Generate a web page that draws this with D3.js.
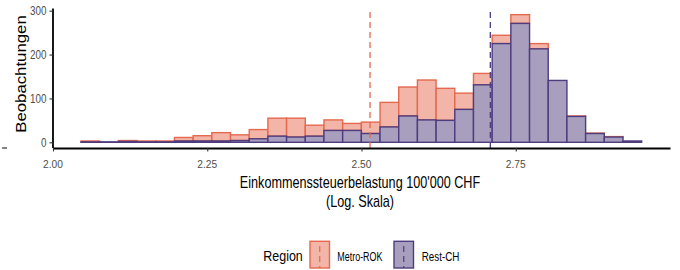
<!DOCTYPE html>
<html>
<head>
<meta charset="utf-8">
<script src="https://cdn.jsdelivr.net/npm/d3@7"></script>
<style>
  body { margin: 0; background: #fff; }
  svg { display: block; }
  text { font-family: "Liberation Sans", Arial, sans-serif; }
</style>
</head>
<body>
<svg id="chart" width="680" height="270"></svg>
<script>
// histogram bins (30 bins, log scale of tax burden)
var binStart = 2.0454;
var binWidth = 0.03029;
var restCH   = [1, 1, 2, 1, 1, 3, 3, 3, 4, 8, 14, 12, 14, 27, 27, 20, 35, 60, 51, 50, 75, 131, 225, 271, 213, 141, 59, 20, 12, 3];
var metroROK = [2, 0, 2, 2, 2, 8, 12, 19, 13, 21, 41, 43, 25, 24, 16, 26, 56, 66, 91, 73, 37, 26, 19, 20, 12, 0, 1, 1, 1, 0];
var meanMetro = 2.5138;
var meanRest  = 2.7088;
var xTicks = [2.00, 2.25, 2.50, 2.75];
var yTicks = [0, 100, 200, 300];
var regions = ["Metro-ROK", "Rest-CH"];

var fillCol   = {"Metro-ROK": "#f2b5a8", "Rest-CH": "#a79fbd"};
var strokeCol = {"Metro-ROK": "#e4694f", "Rest-CH": "#4e3c7e"};

var svg = d3.select("#chart");

var x = d3.scaleLinear().domain([2.0, 3.0]).range([53, 670]);
var y = d3.scaleLinear().domain([-13, 305]).range([148, 8.5]);

var bins = restCH.map(function(r, i) {
    return {x0: binStart + i * binWidth, x1: binStart + (i + 1) * binWidth, rest: r, metro: metroROK[i]};
});

// the reference text is squeezed sideways, so each label gets its own x scale
function label(g, tx, ty, str, size, anchor, color, sq) {
    return g.append("text")
        .attr("transform", "translate(" + tx + "," + ty + ") scale(" + sq + ",1)")
        .attr("text-anchor", anchor)
        .attr("font-size", size)
        .attr("fill", color)
        .text(str);
}

// Metro-ROK stacked on top
svg.append("g").selectAll("rect")
    .data(bins.filter(function(d) { return d.metro > 0; }))
    .enter().append("rect")
    .attr("x", function(d) { return x(d.x0); })
    .attr("width", function(d) { return x(d.x1) - x(d.x0); })
    .attr("y", function(d) { return y(d.rest + d.metro); })
    .attr("height", function(d) { return y(d.rest) - y(d.rest + d.metro); })
    .attr("fill", fillCol["Metro-ROK"])
    .attr("stroke", strokeCol["Metro-ROK"])
    .attr("stroke-width", 1.4);

svg.append("g").selectAll("rect")
    .data(bins)
    .enter().append("rect")
    .attr("x", function(d) { return x(d.x0); })
    .attr("width", function(d) { return x(d.x1) - x(d.x0); })
    .attr("y", function(d) { return y(d.rest); })
    .attr("height", function(d) { return y(0) - y(d.rest); })
    .attr("fill", fillCol["Rest-CH"])
    .attr("stroke", strokeCol["Rest-CH"])
    .attr("stroke-width", 1.4);

// mean lines
[[meanMetro, "Metro-ROK"], [meanRest, "Rest-CH"]].forEach(function(m) {
    svg.append("line")
        .attr("x1", x(m[0])).attr("x2", x(m[0]))
        .attr("y1", 148).attr("y2", 8.5)
        .attr("stroke", strokeCol[m[1]])
        .attr("stroke-width", 1.3)
        .attr("stroke-dasharray", "6,4");
});

// axes
var yAxis = svg.append("g").attr("transform", "translate(53,0)")
    .call(d3.axisLeft(y).tickValues(yTicks).tickSize(3.5).tickSizeOuter(0).tickFormat(d3.format("d")));
var xAxis = svg.append("g").attr("transform", "translate(0,148)")
    .call(d3.axisBottom(x).tickValues(xTicks).tickSize(3.5).tickSizeOuter(0).tickFormat(d3.format(".2f")));

[yAxis, xAxis].forEach(function(a) {
    a.select(".domain").attr("stroke", "#000").attr("stroke-width", 1.8);
    a.selectAll(".tick line").attr("stroke", "#333").attr("stroke-width", 1.1);
    a.selectAll(".tick text").remove();
});
yAxis.select(".domain").attr("d", "M0," + y(305) + "V148");

yTicks.forEach(function(t) {
    label(svg, 46.5, y(t) + 4.4, String(t), 12, "end", "#4d4d4d", 0.82);
});
xTicks.forEach(function(t) {
    label(svg, x(t), 168.3, d3.format(".2f")(t), 11.6, "middle", "#4d4d4d", 0.88);
});

// titles
svg.append("text")
    .attr("transform", "translate(25.5,74) scale(0.83,1) rotate(-90)")
    .attr("text-anchor", "middle")
    .attr("font-size", 16.8)
    .attr("fill", "#000")
    .text("Beobachtungen");

label(svg, 360, 188.3, "Einkommenssteuerbelastung 100'000 CHF", 16.2, "middle", "#000", 0.78);
label(svg, 360, 206.5, "(Log. Skala)", 16.2, "middle", "#000", 0.78);

svg.append("line")
    .attr("x1", 2).attr("x2", 7).attr("y1", 148).attr("y2", 148)
    .attr("stroke", "#333").attr("stroke-width", 1.2);

// legend
label(svg, 263.3, 261.3, "Region", 14, "start", "#000", 0.89);
var keyX = [310, 394];
var labX = [337.3, 421.7];
var labSize = [12.1, 12];
var labSq = [0.74, 0.82];
regions.forEach(function(r, i) {
    svg.append("rect")
        .attr("x", keyX[i]).attr("y", 241.3)
        .attr("width", 19.5).attr("height", 26.7)
        .attr("fill", fillCol[r])
        .attr("stroke", strokeCol[r])
        .attr("stroke-width", 1.4);
    svg.append("line")
        .attr("x1", keyX[i] + 9.75).attr("x2", keyX[i] + 9.75)
        .attr("y1", 268).attr("y2", 241.3)
        .attr("stroke", strokeCol[r])
        .attr("stroke-width", 1.2)
        .attr("stroke-dasharray", "6,4")
        .attr("stroke-dashoffset", 4);
    label(svg, labX[i], 261.3, r, labSize[i], "start", "#000", labSq[i]);
});
</script>
</body>
</html>
